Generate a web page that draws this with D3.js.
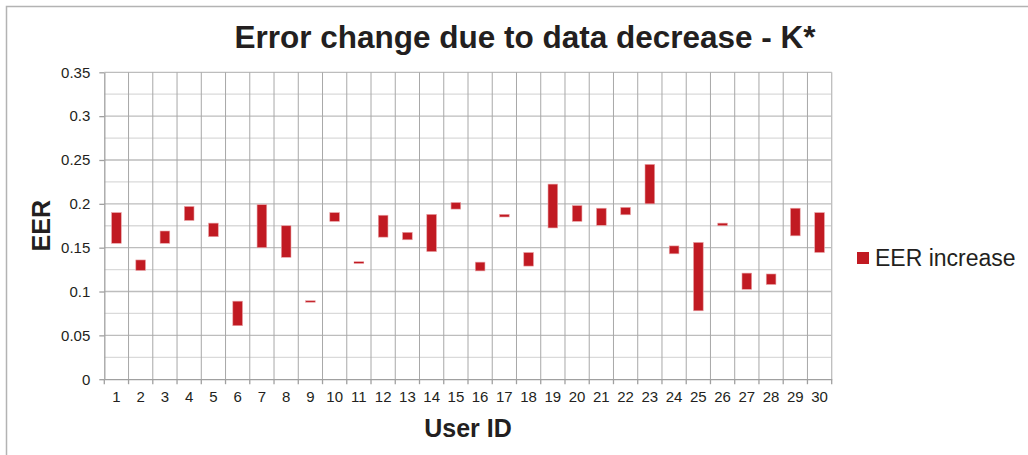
<!DOCTYPE html>
<html>
<head>
<meta charset="utf-8">
<script src="https://cdn.jsdelivr.net/npm/d3@7"></script>
<style>
  body { margin: 0; background: #fff; }
  svg { display: block; font-family: "Liberation Sans", Arial, sans-serif; }
</style>
</head>
<body>
<div id="chart"></div>
<script>
// Chart data
var userIds = d3.range(1, 31).map(String);
var eerLow  = [0.155, 0.124, 0.155, 0.181, 0.1625, 0.061, 0.150, 0.139, 0.0885, 0.180,
               0.132, 0.162, 0.159, 0.1455, 0.194, 0.1235, 0.185, 0.129, 0.1725, 0.180,
               0.1755, 0.1875, 0.200, 0.143, 0.078, 0.175, 0.1025, 0.108, 0.1635, 0.1445];
var eerHigh = [0.190, 0.136, 0.169, 0.197, 0.178, 0.089, 0.199, 0.175, 0.0895, 0.190,
               0.134, 0.187, 0.1675, 0.188, 0.2015, 0.1335, 0.188, 0.1445, 0.2225, 0.198,
               0.195, 0.196, 0.245, 0.152, 0.156, 0.178, 0.121, 0.120, 0.195, 0.190];
var yTicks = [0, 0.05, 0.1, 0.15, 0.2, 0.25, 0.3, 0.35];
var yMinor = [0.025, 0.075, 0.125, 0.175, 0.225, 0.275, 0.325];
var title = 'Error change due to data decrease - K*';
var seriesName = 'EER increase';

var width = 1028, height = 455;
var margin = {top: 72.3, right: 196.3, bottom: 75.8, left: 104.3};
var plotW = width - margin.left - margin.right,
    plotH = height - margin.top - margin.bottom;
var barColor = '#c11a22';
var textColor = '#231f20';

var svg = d3.select('#chart').append('svg')
    .attr('width', width)
    .attr('height', height);

// Outer frame (top and left only)
svg.append('path')
    .attr('d', 'M6.5,455 V6.5 H1028')
    .attr('fill', 'none')
    .attr('stroke', '#b3b3b3')
    .attr('stroke-width', 1.5);

var chart = svg.append('g')
    .attr('transform', 'translate(' + margin.left + ',' + margin.top + ')');

// Scales
var x = d3.scaleBand().domain(userIds).range([0, plotW]).padding(0);
var y = d3.scaleLinear().domain([0, 0.35]).range([plotH, 0]);

// Minor horizontal grid
chart.append('g').selectAll('line')
    .data(yMinor).enter().append('line')
    .attr('x1', 0).attr('x2', plotW)
    .attr('y1', function(d) { return y(d); })
    .attr('y2', function(d) { return y(d); })
    .attr('stroke', '#dadada')
    .attr('stroke-width', 1.3);

// Major horizontal grid
chart.append('g').selectAll('line')
    .data(yTicks.slice(1)).enter().append('line')
    .attr('x1', 0).attr('x2', plotW)
    .attr('y1', function(d) { return y(d); })
    .attr('y2', function(d) { return y(d); })
    .attr('stroke', '#bdbdbd')
    .attr('stroke-width', 1.3);

// Vertical grid at category boundaries
chart.append('g').selectAll('line')
    .data(userIds.slice(1)).enter().append('line')
    .attr('x1', function(d) { return x(d); })
    .attr('x2', function(d) { return x(d); })
    .attr('y1', 0).attr('y2', plotH)
    .attr('stroke', '#a8a8a8')
    .attr('stroke-width', 1);

// Right border of plot
chart.append('line')
    .attr('x1', plotW).attr('x2', plotW)
    .attr('y1', 0).attr('y2', plotH)
    .attr('stroke', '#bdbdbd')
    .attr('stroke-width', 1.3);

// Bars (floating from low to high)
var bw = x.bandwidth() * 0.4;
chart.append('g').selectAll('rect')
    .data(userIds).enter().append('rect')
    .attr('x', function(d) { return x(d) + (x.bandwidth() - bw) / 2; })
    .attr('y', function(d, i) { return y(eerHigh[i]); })
    .attr('width', bw)
    .attr('height', function(d, i) { return Math.max(1.5, y(eerLow[i]) - y(eerHigh[i])); })
    .attr('fill', barColor)
    .attr('stroke', '#e9a5a8')
    .attr('stroke-width', 0.6);

// Y axis
var yAxis = d3.axisLeft(y).tickValues(yTicks).tickSize(5).tickSizeOuter(0)
    .tickFormat(function(d) { return String(d); });
var yg = chart.append('g').call(yAxis);
yg.select('.domain').attr('stroke', '#a0a0a0').attr('stroke-width', 1.3);
yg.selectAll('.tick line').attr('stroke', '#a0a0a0').attr('stroke-width', 1.3);
yg.selectAll('.tick text')
    .attr('x', -14)
    .attr('fill', textColor)
    .style('font-size', '15px');

// X axis with ticks between categories
var xAxis = d3.axisBottom(x).tickSize(0).tickSizeOuter(0);
var xg = chart.append('g')
    .attr('transform', 'translate(0,' + plotH + ')')
    .call(xAxis);
xg.select('.domain').attr('stroke', '#a0a0a0').attr('stroke-width', 1.3);
xg.selectAll('.tick text')
    .attr('y', 12)
    .attr('fill', textColor)
    .style('font-size', '15px');
xg.append('g').selectAll('line')
    .data(userIds.concat(['end'])).enter().append('line')
    .attr('x1', function(d, i) { return i * x.step(); })
    .attr('x2', function(d, i) { return i * x.step(); })
    .attr('y1', 0).attr('y2', 5)
    .attr('stroke', '#a0a0a0')
    .attr('stroke-width', 1.3);

// Title
svg.append('text')
    .attr('x', 525)
    .attr('y', 48)
    .attr('text-anchor', 'middle')
    .attr('fill', textColor)
    .style('font-size', '31.5px')
    .style('font-weight', 'bold')
    .text(title);

// X axis label
svg.append('text')
    .attr('x', margin.left + plotW / 2)
    .attr('y', 437)
    .attr('text-anchor', 'middle')
    .attr('fill', textColor)
    .style('font-size', '25px')
    .style('font-weight', 'bold')
    .text('User ID');

// Y axis label
svg.append('text')
    .attr('transform', 'translate(49.5,' + (margin.top + plotH / 2) + ') rotate(-90)')
    .attr('text-anchor', 'middle')
    .attr('fill', textColor)
    .style('font-size', '25px')
    .style('font-weight', 'bold')
    .text('EER');

// Legend
var legend = svg.append('g').attr('transform', 'translate(857,252)');
legend.append('rect')
    .attr('width', 12).attr('height', 12)
    .attr('fill', barColor);
legend.append('text')
    .attr('x', 18)
    .attr('y', 13.5)
    .attr('fill', textColor)
    .style('font-size', '23px')
    .text(seriesName);
</script>
</body>
</html>
